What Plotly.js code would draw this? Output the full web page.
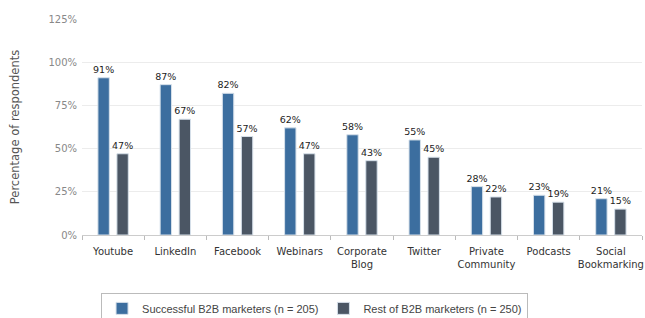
<!DOCTYPE html>
<html><head><meta charset="utf-8">
<script src="https://cdn.plot.ly/plotly-3.0.1.min.js"></script>
<style>html,body{margin:0;padding:0;background:#fff}#c{width:645px;height:318px}</style>
</head><body><div id="c"></div>
<script>
const categories = ["Youtube","LinkedIn","Facebook","Webinars","Corporate<br>Blog","Twitter","Private<br>Community","Podcasts","Social<br>Bookmarking"];
const successful = [91,87,82,62,58,55,28,23,21];
const rest = [47,67,57,47,43,45,22,19,15];
const seriesNames = ["Successful B2B marketers (n = 205)","Rest of B2B marketers (n = 250)"];
const yTicks = [0,25,50,75,100,125];

const mk = (y, name, color) => ({
  type:'bar', x:categories, y:y, name:name,
  marker:{color:color, line:{color:'#d6e0ea', width:1}},
  text:y.map(v=>v+'%'), textposition:'outside', cliponaxis:false, constraintext:'none',
  textfont:{family:'DejaVu Sans', size:9.5, color:'#222'},
  hoverinfo:'none'
});

const data = [mk(successful, seriesNames[0], '#3c6e9f'), mk(rest, seriesNames[1], '#4b5664')];

const layout = {
  width:645, height:318,
  margin:{l:82, r:3, t:19, b:83, autoexpand:false},
  paper_bgcolor:'#fff', plot_bgcolor:'#fff',
  barmode:'group', bargap:0.39, bargroupgap:0.4,
  font:{family:'DejaVu Sans', size:9, color:'#444'},
  xaxis:{type:'category', tickson:'boundaries', ticks:'outside', ticklen:4, tickcolor:'#bbb', tickangle:0,
    showline:true, linecolor:'#ccc', showgrid:false, automargin:false, ticklabelstandoff:7,
    tickfont:{family:'DejaVu Sans', size:10, color:'#333'}},
  yaxis:{range:[0,125], tickvals:yTicks, ticktext:yTicks.map(v=>v+'%'), showgrid:true, gridcolor:'#ececec',
    zeroline:false, showline:false, ticks:'', ticklen:0, automargin:false, ticklabelstandoff:4,
    tickfont:{family:'DejaVu Sans', size:10, color:'#888'},
    title:{text:'Percentage of respondents', font:{family:'DejaVu Sans', size:11.5, color:'#555'}, standoff:26}},
  showlegend:true,
  legend:{orientation:'h', x:0.034, xanchor:'left', y:-0.268, yanchor:'top',
    bordercolor:'#bbb', borderwidth:1, font:{family:'Liberation Sans', size:11, color:'#444'},
    traceorder:'normal'}
};
Plotly.newPlot('c', data, layout, {staticPlot:true, displayModeBar:false});
</script></body></html>
